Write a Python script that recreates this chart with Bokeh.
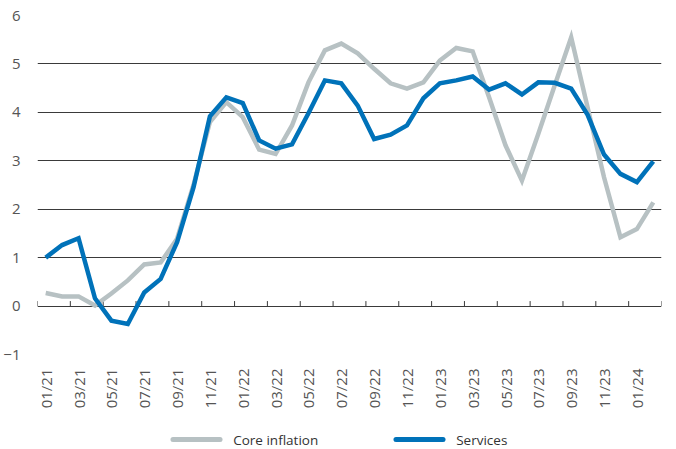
import math
from bokeh.plotting import figure
from bokeh.layouts import column
from bokeh.core.properties import value
from bokeh.models import Range1d, FixedTicker, LinearAxis, ColumnDataSource
from bokeh.embed import file_html
from bokeh.resources import INLINE

months = ["01/21", "02/21", "03/21", "04/21", "05/21", "06/21", "07/21", "08/21",
          "09/21", "10/21", "11/21", "12/21", "01/22", "02/22", "03/22", "04/22",
          "05/22", "06/22", "07/22", "08/22", "09/22", "10/22", "11/22", "12/22",
          "01/23", "02/23", "03/23", "04/23", "05/23", "06/23", "07/23", "08/23",
          "09/23", "10/23", "11/23", "12/23", "01/24", "02/24"]

core_inflation = [0.27, 0.20, 0.20, 0.01, 0.26, 0.53, 0.86, 0.90, 1.39, 2.50,
                  3.80, 4.21, 3.90, 3.23, 3.14, 3.73, 4.62, 5.28, 5.42, 5.22,
                  4.90, 4.60, 4.49, 4.62, 5.07, 5.33, 5.26, 4.31, 3.32, 2.59,
                  3.56, 4.56, 5.55, 4.10, 2.66, 1.42, 1.59, 2.14]

services = [1.00, 1.26, 1.40, 0.16, -0.30, -0.37, 0.28, 0.56, 1.32, 2.45,
            3.92, 4.31, 4.19, 3.42, 3.25, 3.34, 3.98, 4.66, 4.60, 4.14,
            3.45, 3.54, 3.73, 4.29, 4.60, 4.66, 4.74, 4.47, 4.60, 4.37,
            4.62, 4.61, 4.49, 3.95, 3.13, 2.73, 2.56, 2.99]

series_names = ["Core inflation", "Services"]
series_colors = ["#B7C1C3", "#0072B9"]

y_ticks = [-1, 0, 1, 2, 3, 4, 5, 6]

x = list(range(len(months)))
src = ColumnDataSource(dict(x=x, core=core_inflation, services=services))

FONT = "Open Sans"
GRID = "#3a3a3a"

p = figure(frame_width=624, frame_height=339, output_backend="svg",
           toolbar_location=None,
           x_range=Range1d(-0.5, len(months) - 0.5), y_range=Range1d(-1, 6),
           min_border_left=34, min_border_right=2, min_border_top=15,
           min_border_bottom=58, x_axis_type=None)
p.outline_line_color = None
p.background_fill_color = "white"
p.border_fill_color = "white"

# y axis
p.yaxis.ticker = FixedTicker(ticks=y_ticks)
p.yaxis.axis_line_color = None
p.yaxis.major_tick_line_color = None
p.yaxis.minor_tick_line_color = None
p.yaxis.major_tick_in = 0
p.yaxis.major_tick_out = 0
p.yaxis.major_label_standoff = 17
p.yaxis.major_label_text_font = FONT
p.yaxis.major_label_text_font_size = "15px"
p.yaxis.major_label_text_color = "#555555"
p.ygrid.ticker = FixedTicker(ticks=y_ticks)
p.ygrid.grid_line_color = GRID
p.ygrid.grid_line_width = 1

# tick marks on the zero line at every second category boundary
bounds = [i - 0.5 for i in range(0, len(months) + 1, 2)]
tick_h = 5 * (6 - (-1)) / 339.0
p.segment(x0=bounds, y0=[0] * len(bounds), x1=bounds,
          y1=[tick_h] * len(bounds), line_color=GRID, line_width=1)

# month labels
lab_ticks = x[::2]
lab_axis = LinearAxis(ticker=FixedTicker(ticks=lab_ticks),
                      major_label_overrides={i: months[i] for i in lab_ticks},
                      axis_line_color=None, major_tick_line_color=None,
                      minor_tick_line_color=None,
                      major_tick_in=0, major_tick_out=0,
                      major_label_orientation=math.pi / 2,
                      major_label_standoff=14,
                      major_label_text_font=FONT,
                      major_label_text_font_size="15px",
                      major_label_text_color="#555555")
p.add_layout(lab_axis, "below")

p.line("x", "core", source=src, line_color=series_colors[0], line_width=4.5,
       line_join="miter")
p.line("x", "services", source=src, line_color=series_colors[1],
       line_width=4.5, line_join="miter")

# legend strip below the chart (pixel-unit ranges)
LW, LH = 660, 35
q = figure(width=LW, height=LH, output_backend="svg", toolbar_location=None,
           x_axis_type=None, y_axis_type=None, min_border=0,
           x_range=Range1d(0, LW), y_range=Range1d(0, LH))
q.outline_line_color = None
q.grid.visible = False
leg_x = [144, 381]          # left end of each legend swatch
sw = 50                     # swatch length
leg_y = 8
q.segment(x0=leg_x, y0=[leg_y] * 2, x1=[v + sw for v in leg_x], y1=[leg_y] * 2,
          line_color=series_colors, line_width=5, line_cap="round")
q.text(x=[v + sw + 14 for v in leg_x], y=[leg_y] * 2, text=series_names,
       text_font=value(FONT), text_font_size="13.5px", text_color="#333333",
       text_baseline="middle", text_align="left")

layout = column(p, q, spacing=0)
open("out.html", "w").write(file_html(layout, INLINE))
